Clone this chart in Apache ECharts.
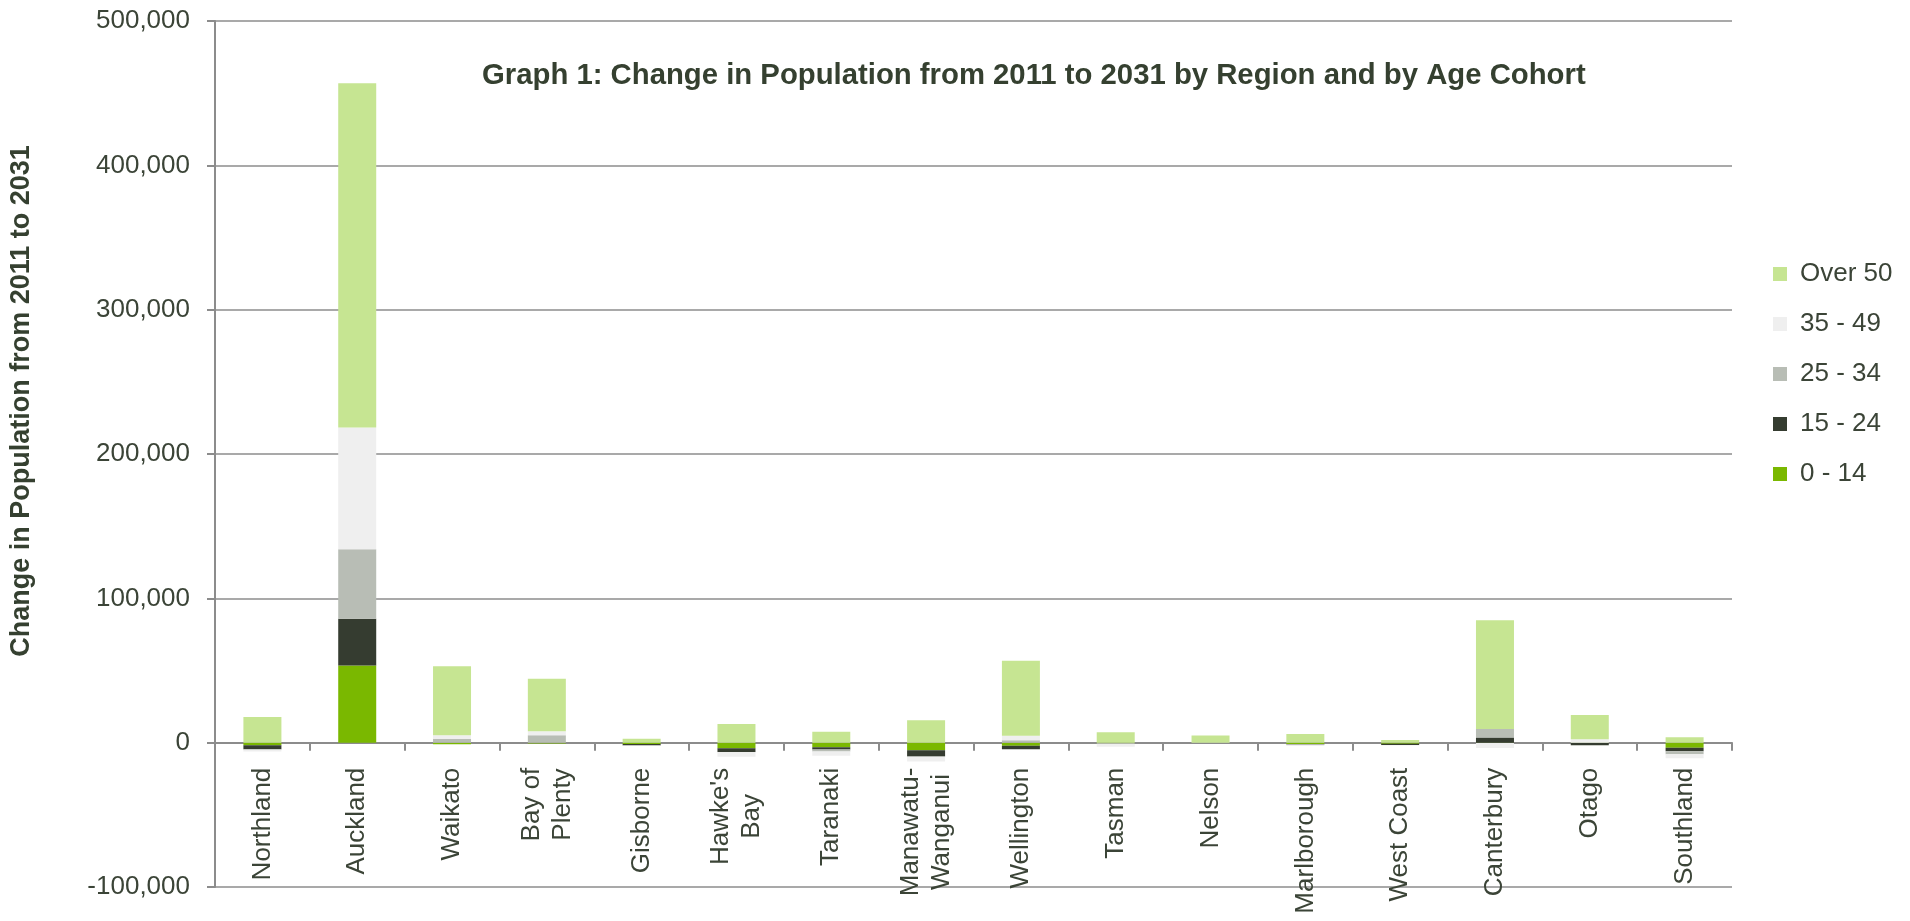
<!DOCTYPE html>
<html>
<head>
<meta charset="utf-8">
<title>Change in Population from 2011 to 2031</title>
<script src="https://cdn.jsdelivr.net/npm/echarts@6/dist/echarts.min.js"></script>
<style>
  html, body { margin: 0; padding: 0; background: #ffffff; }
  #chart { width: 1910px; height: 921px; }
</style>
</head>
<body>
<div id="chart"></div>
<script>
// Regions (x axis categories)
const regions = ['Northland', 'Auckland', 'Waikato', 'Bay of\nPlenty', 'Gisborne', "Hawke's\nBay",
  'Taranaki', 'Manawatu-\nWanganui', 'Wellington', 'Tasman', 'Nelson', 'Marlborough',
  'West Coast', 'Canterbury', 'Otago', 'Southland'];

// Population change 2011-2031 by age cohort, per region
const age0to14  = [-1800, 53500, -1100,  -600, -1000, -3800, -3200, -5300, -2200,  -400,     0, -1000,  -800,  -200,  -300, -3600];
const age15to24 = [-2800, 32400,     0,     0,  -900, -2600, -1500, -4300, -2300,  -200,     0,  -200,  -800,  3500, -1400, -2300];
const age25to34 = [ -300, 48100,  2800,  5100,     0,  -200, -1400,  -200,  1600,     0,     0,  -300,     0,  6000,  -400, -2100];
const age35to49 = [-1200, 84300,  2300,  2800,  -400, -3100, -3000, -3300,  3200, -2200,  -300,  -800,  -300, -3500,  2300, -2800];
const over50    = [17800, 238600, 47800, 36400,  2800, 12900,  7600, 15500, 52000,  7200,  4900,  6000,  1900, 75300, 16900,  3700];

// Value axis ticks
const yTicks = [-100000, 0, 100000, 200000, 300000, 400000, 500000];

const cohorts = [
  { name: '0 - 14',  data: age0to14,  color: '#7ab800' },
  { name: '15 - 24', data: age15to24, color: '#353c30' },
  { name: '25 - 34', data: age25to34, color: '#b8bdb5' },
  { name: '35 - 49', data: age35to49, color: '#efefef' },
  { name: 'Over 50', data: over50,    color: '#c6e592' }
];

const FONT = '"Liberation Sans", Arial, sans-serif';
const TEXT = '#3b4437';
const LINE = '#8c8c8c';

// Plot area in pixels
const GRID = { left: 215, right: 178, top: 21, bottom: 34 };
const plotHeight = 921 - GRID.top - GRID.bottom;
const yMin = yTicks[0];
const yMax = yTicks[yTicks.length - 1];
// Lift the category axis from the plot's bottom edge up to the zero line
const zeroOffset = -plotHeight * (0 - yMin) / (yMax - yMin);

const chart = echarts.init(document.getElementById('chart'), null, { renderer: 'canvas' });

chart.setOption({
  animation: false,
  backgroundColor: '#ffffff',
  textStyle: { fontFamily: FONT },
  title: {
    text: 'Graph 1: Change in Population from 2011 to 2031 by Region and by Age Cohort',
    left: 482,
    top: 61,
    padding: 0,
    textStyle: { fontFamily: FONT, fontSize: 29.3, fontWeight: 'bold', color: '#354030' }
  },
  graphic: [{
    type: 'text',
    x: 22,
    y: 401,
    rotation: Math.PI / 2,
    style: {
      text: 'Change in Population from 2011 to 2031',
      font: 'bold 27px ' + FONT,
      fill: '#354030',
      align: 'center',
      verticalAlign: 'middle'
    }
  }],
  legend: {
    orient: 'vertical',
    left: 1768,
    top: 256,
    itemWidth: 14,
    itemHeight: 14,
    itemGap: 24,
    icon: 'rect',
    data: ['Over 50', '35 - 49', '25 - 34', '15 - 24', '0 - 14'],
    textStyle: { fontFamily: FONT, fontSize: 26, color: TEXT, padding: [0, 0, 0, 8] }
  },
  grid: Object.assign({ containLabel: false, outerBoundsMode: 'none' }, GRID),
  xAxis: {
    type: 'category',
    data: regions,
    boundaryGap: true,
    offset: zeroOffset,
    axisLine: { show: true, onZero: false, lineStyle: { color: LINE, width: 2 } },
    axisTick: { show: true, interval: 0, length: 8, lineStyle: { color: LINE, width: 2 } },
    axisLabel: {
      interval: 0,
      rotate: 90,
      margin: 25,
      fontFamily: FONT,
      fontSize: 26,
      lineHeight: 31,
      color: TEXT,
      // two-line names are centred line by line
      formatter: v => v.split('\n').map(s => '{c|' + s + '}').join('\n'),
      rich: {
        c: { fontFamily: FONT, fontSize: 26, lineHeight: 31, color: TEXT, align: 'center' }
      }
    }
  },
  yAxis: {
    type: 'value',
    min: yMin,
    max: yMax,
    interval: yTicks[1] - yTicks[0],
    axisLine: { show: true, lineStyle: { color: LINE, width: 2 } },
    axisTick: { show: true, length: 8, lineStyle: { color: LINE, width: 2 } },
    splitLine: { show: true, lineStyle: { color: LINE, width: 1.5 } },
    axisLabel: {
      margin: 25,
      fontFamily: FONT,
      fontSize: 26,
      color: TEXT,
      showMinLabel: true,
      showMaxLabel: true,
      formatter: v => v.toLocaleString('en-US')
    }
  },
  series: cohorts.map(c => ({
    name: c.name,
    type: 'bar',
    stack: 'total',
    barWidth: 38,
    data: c.data,
    itemStyle: { color: c.color },
    emphasis: { disabled: true }
  }))
});
</script>
</body>
</html>
